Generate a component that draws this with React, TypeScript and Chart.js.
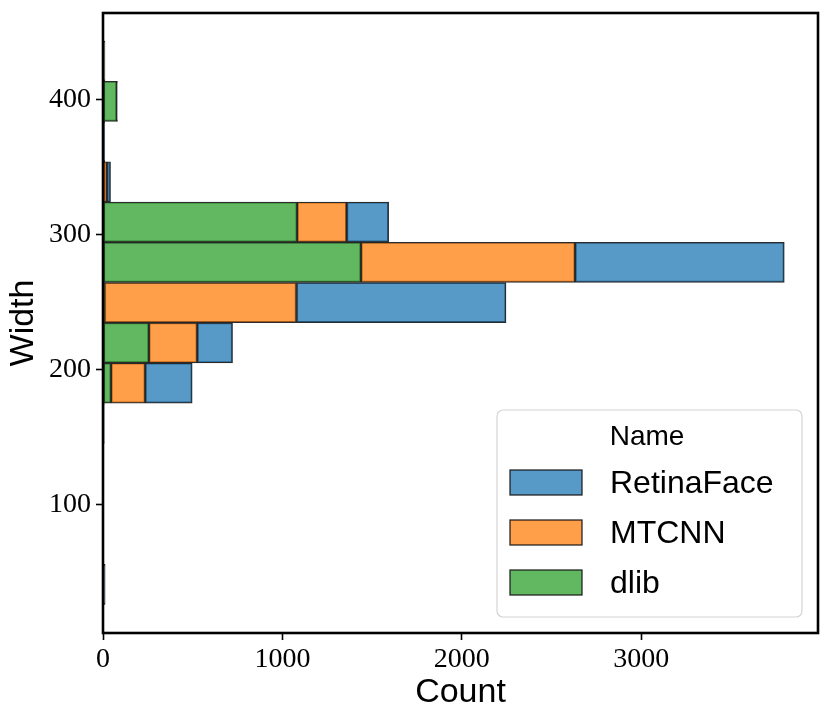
import { useEffect, useRef } from "react"
import { Chart, registerables } from "chart.js"

Chart.register(...registerables)

// histogram bins (width values, bin centres) and stacked counts per detector
const binCenters = [41, 70.8, 100.6, 130.4, 160.2, 190, 219.8, 249.6, 279.4, 309.2, 339, 368.8, 398.6, 428.4]
const dlibCounts = [3, 1, 1, 1, 2, 45, 256, 8, 1438, 1082, 0, 3, 77, 5]
const mtcnnCounts = [4, 1, 2, 1, 2, 190, 269, 1070, 1193, 276, 22, 4, 2, 3]
const retinaCounts = [5, 1, 1, 2, 3, 262, 197, 1168, 1166, 234, 20, 3, 1, 3]

const xTicks = [0, 1000, 2000, 3000]
const yTicks = [100, 200, 300, 400]

const legendTitle = "Name"
const legendNames = ["RetinaFace", "MTCNN", "dlib"]

const colors: Record<string, string> = {
  RetinaFace: "rgba(31, 119, 180, 0.75)",
  MTCNN: "rgba(255, 127, 14, 0.75)",
  dlib: "rgba(44, 160, 44, 0.75)",
}
const edgeColor = "rgba(20, 20, 20, 0.9)"
const sansFont = "'Liberation Sans', Arial, sans-serif"
const serifFont = "'Liberation Serif', 'Times New Roman', serif"

const framePlugin = {
  id: "frame",
  afterDraw(chart: Chart) {
    const { ctx, chartArea } = chart
    ctx.save()
    ctx.strokeStyle = "#000"
    ctx.lineWidth = 2.6
    ctx.strokeRect(chartArea.left, chartArea.top, chartArea.right - chartArea.left, chartArea.bottom - chartArea.top)
    ctx.restore()
  },
}

const insideLegend = {
  id: "insideLegend",
  afterDraw(chart: Chart) {
    const { ctx, chartArea } = chart
    const w = 305
    const h = 207
    const x0 = chartArea.right - 16 - w
    const y0 = chartArea.bottom - 16 - h
    ctx.save()
    ctx.beginPath()
    ctx.roundRect(x0, y0, w, h, 6)
    ctx.fillStyle = "rgba(255,255,255,0.8)"
    ctx.fill()
    ctx.strokeStyle = "#d4d4d4"
    ctx.lineWidth = 1.2
    ctx.stroke()

    ctx.fillStyle = "#000"
    ctx.font = `28px ${sansFont}`
    ctx.textAlign = "center"
    ctx.textBaseline = "alphabetic"
    ctx.fillText(legendTitle, x0 + 150, y0 + 35)

    ctx.textAlign = "left"
    ctx.font = `32px ${sansFont}`
    legendNames.forEach((name, i) => {
      const py = y0 + 60 + i * 50
      ctx.fillStyle = "#fff"
      ctx.fillRect(x0 + 13, py, 72, 25)
      ctx.fillStyle = colors[name]
      ctx.fillRect(x0 + 13, py, 72, 25)
      ctx.strokeStyle = edgeColor
      ctx.lineWidth = 1.3
      ctx.strokeRect(x0 + 13, py, 72, 25)
      ctx.fillStyle = "#000"
      ctx.fillText(name, x0 + 113, py + 23)
    })
    ctx.restore()
  },
}

function makeDataset(label: string, counts: number[]) {
  return {
    label,
    data: binCenters.map((y, i) => ({ x: counts[i], y })),
    backgroundColor: colors[label],
    borderColor: edgeColor,
    borderWidth: 1.3,
    borderSkipped: false as const,
    stack: "hist",
    barPercentage: 1,
    categoryPercentage: 1,
  }
}

export default function App() {
  const chartRef = useRef<HTMLCanvasElement>(null)
  const chartInstance = useRef<Chart | null>(null)

  useEffect(() => {
    document.body.style.margin = "0"
    if (!chartRef.current) return
    if (chartInstance.current) chartInstance.current.destroy()

    chartInstance.current = new Chart(chartRef.current, {
      type: "bar",
      data: {
        datasets: [
          makeDataset("dlib", dlibCounts),
          makeDataset("MTCNN", mtcnnCounts),
          makeDataset("RetinaFace", retinaCounts),
        ],
      },
      options: {
        indexAxis: "y",
        animation: false,
        responsive: true,
        maintainAspectRatio: false,
        layout: { padding: { top: 13, right: 13, left: 0, bottom: 0 } },
        plugins: {
          legend: { display: false },
          tooltip: { enabled: false },
        },
        scales: {
          x: {
            type: "linear",
            stacked: true,
            min: 0,
            max: 3985,
            afterBuildTicks: (scale: any) => {
              scale.ticks = xTicks.map((value) => ({ value }))
            },
            afterFit: (scale: any) => {
              scale.height = 91
              scale.paddingLeft = 0
              scale.paddingRight = 0
            },
            border: { display: false },
            grid: {
              drawOnChartArea: false,
              drawTicks: true,
              tickLength: 7,
              tickWidth: 1.6,
              tickColor: "#000",
              offset: false,
            },
            ticks: {
              color: "#000",
              font: { family: serifFont, size: 28 },
              padding: 3,
              maxRotation: 0,
              callback: (value: any) => String(value),
            },
            title: {
              display: true,
              text: "Count",
              color: "#000",
              font: { family: sansFont, size: 34 },
              padding: { top: 0, bottom: 11 },
            },
          },
          y: {
            type: "linear",
            min: 5,
            max: 464,
            offset: false,
            afterBuildTicks: (scale: any) => {
              scale.ticks = yTicks.map((value) => ({ value }))
            },
            afterFit: (scale: any) => {
              scale.width = 103
              scale.paddingTop = 0
              scale.paddingBottom = 0
            },
            border: { display: false },
            grid: {
              drawOnChartArea: false,
              drawTicks: true,
              tickLength: 7,
              tickWidth: 1.6,
              tickColor: "#000",
              offset: false,
            },
            ticks: {
              color: "#000",
              font: { family: serifFont, size: 28 },
              padding: 5,
              callback: (value: any) => String(value),
            },
            title: {
              display: true,
              text: "Width",
              color: "#000",
              font: { family: sansFont, size: 34 },
              padding: { top: 3, bottom: 0 },
            },
          },
        },
      },
      plugins: [framePlugin, insideLegend],
    })

    return () => {
      if (chartInstance.current) {
        chartInstance.current.destroy()
        chartInstance.current = null
      }
    }
  }, [])

  return (
    <div style={{ position: "fixed", left: 0, top: 0, width: 831, height: 724, background: "#fff" }}>
      <canvas ref={chartRef}></canvas>
    </div>
  )
}
